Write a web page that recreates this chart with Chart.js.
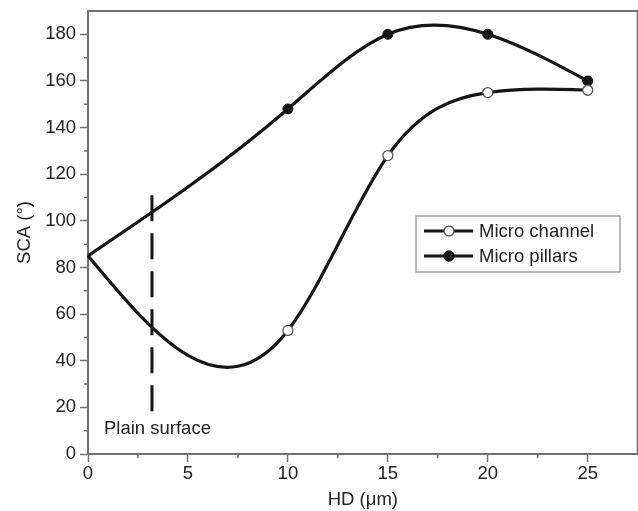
<!DOCTYPE html>
<html>
<head>
<meta charset="utf-8">
<script src="https://cdn.jsdelivr.net/npm/chart.js@4/dist/chart.umd.min.js"></script>
<style>
  html, body { margin: 0; padding: 0; background: #fff; overflow: hidden; }
  #wrap { width: 638px; height: 511px; overflow: hidden; }
</style>
</head>
<body>
<div id="wrap"><canvas id="scaChart" width="644" height="511"></canvas></div>
<script>
// values
var hd = [0, 10, 15, 20, 25];
var microChannel = [85, 53, 128, 155, 156];
var microPillars = [85, 148, 180, 180, 160];
var markerShown = [0, 1, 1, 1, 1];
var plainX = 3.2;
var plainY = [111, 16];
var plainLabel = 'Plain surface';
var plainLabelPos = [0.8, 10.7];
var seriesNames = ['Micro channel', 'Micro pillars'];
var yMinorTicks = [10, 30, 50, 70, 90, 110, 130, 150, 170];
var xMinorTicks = [2.5, 7.5, 12.5, 17.5, 22.5];

var FONT = '"Liberation Sans", Arial, sans-serif';
var FSIZE = 18.5;
var INK = '#151515';
var AXIS = '#707070';

function toPoints(ys) {
    var pts = [];
    for (var i in hd) pts.push({ x: hd[i], y: ys[i] });
    return pts;
}

// slopes of a natural cubic spline at the knots
function splineSlopes(xs, ys) {
    var n = xs.length, h = [], M = [], a = [], b = [], c = [], d = [];
    for (var i = 0; i < n - 1; i++) h.push(xs[i + 1] - xs[i]);
    for (var i = 0; i < n; i++) { a[i] = 0; b[i] = 1; c[i] = 0; d[i] = 0; }
    for (var i = 1; i < n - 1; i++) {
        a[i] = h[i - 1];
        b[i] = 2 * (h[i - 1] + h[i]);
        c[i] = h[i];
        d[i] = 6 * ((ys[i + 1] - ys[i]) / h[i] - (ys[i] - ys[i - 1]) / h[i - 1]);
    }
    for (var i = 1; i < n; i++) {
        var m = a[i] / b[i - 1];
        b[i] -= m * c[i - 1];
        d[i] -= m * d[i - 1];
    }
    M[n - 1] = d[n - 1] / b[n - 1];
    for (var i = n - 2; i >= 0; i--) M[i] = (d[i] - c[i] * M[i + 1]) / b[i];
    var s = [];
    for (var i = 0; i < n - 1; i++) {
        s.push((ys[i + 1] - ys[i]) / h[i] - h[i] * (2 * M[i] + M[i + 1]) / 6);
    }
    var k = n - 2;
    s.push((ys[n - 1] - ys[k]) / h[k] + h[k] * (M[k] + 2 * M[n - 1]) / 6);
    return s;
}

var splinePlugin = {
    id: 'splineCurves',
    beforeDatasetsDraw: function (chart) {
        var xs = chart.scales.x, ys = chart.scales.y, ctx = chart.ctx;
        [microChannel, microPillars].forEach(function (vals) {
            var s = splineSlopes(hd, vals);
            ctx.save();
            ctx.strokeStyle = INK;
            ctx.lineWidth = 3.2;
            ctx.lineJoin = 'round';
            ctx.beginPath();
            ctx.moveTo(xs.getPixelForValue(hd[0]), ys.getPixelForValue(vals[0]));
            for (var i = 0; i < hd.length - 1; i++) {
                var h = hd[i + 1] - hd[i];
                ctx.bezierCurveTo(
                    xs.getPixelForValue(hd[i] + h / 3), ys.getPixelForValue(vals[i] + s[i] * h / 3),
                    xs.getPixelForValue(hd[i + 1] - h / 3), ys.getPixelForValue(vals[i + 1] - s[i + 1] * h / 3),
                    xs.getPixelForValue(hd[i + 1]), ys.getPixelForValue(vals[i + 1]));
            }
            ctx.stroke();
            ctx.restore();
        });
    }
};

var decorPlugin = {
    id: 'decor',
    afterDraw: function (chart) {
        var ctx = chart.ctx, area = chart.chartArea;
        var xs = chart.scales.x, ys = chart.scales.y;
        ctx.save();
        // frame top and right
        ctx.strokeStyle = AXIS;
        ctx.lineWidth = 2;
        ctx.beginPath();
        ctx.moveTo(area.left, area.top);
        ctx.lineTo(area.right, area.top);
        ctx.lineTo(area.right, area.bottom);
        ctx.stroke();
        // minor ticks
        ctx.lineWidth = 1.5;
        ctx.beginPath();
        yMinorTicks.forEach(function (v) {
            var py = ys.getPixelForValue(v);
            ctx.moveTo(area.left - 4, py);
            ctx.lineTo(area.left, py);
        });
        xMinorTicks.forEach(function (v) {
            var px = xs.getPixelForValue(v);
            ctx.moveTo(px, area.bottom);
            ctx.lineTo(px, area.bottom + 4);
        });
        ctx.stroke();
        // annotation text
        ctx.fillStyle = '#222';
        ctx.font = FSIZE + 'px ' + FONT;
        ctx.textBaseline = 'middle';
        ctx.textAlign = 'left';
        ctx.fillText(plainLabel, xs.getPixelForValue(plainLabelPos[0]), ys.getPixelForValue(plainLabelPos[1]));
        // legend
        var lx = 416, ly = 216, lw = 204, lh = 56;
        ctx.fillStyle = '#fff';
        ctx.fillRect(lx, ly, lw, lh);
        ctx.strokeStyle = '#8a8a8a';
        ctx.lineWidth = 1.2;
        ctx.strokeRect(lx, ly, lw, lh);
        var rows = [ly + 15, ly + 40];
        var fills = ['#fff', INK];
        for (var i = 0; i < 2; i++) {
            ctx.strokeStyle = INK;
            ctx.lineWidth = 3;
            ctx.beginPath();
            ctx.moveTo(lx + 8, rows[i]);
            ctx.lineTo(lx + 57, rows[i]);
            ctx.stroke();
            ctx.beginPath();
            ctx.arc(lx + 33, rows[i], 5, 0, Math.PI * 2);
            ctx.fillStyle = fills[i];
            ctx.fill();
            ctx.lineWidth = 1.3;
            ctx.strokeStyle = i === 0 ? '#555' : INK;
            ctx.stroke();
            ctx.fillStyle = '#222';
            ctx.font = FSIZE + 'px ' + FONT;
            ctx.fillText(seriesNames[i], lx + 63, rows[i] + 1);
        }
        ctx.restore();
    }
};

var chartdata = {
    datasets: [
        {
            label: 'Plain surface',
            type: 'line',
            data: [{ x: plainX, y: plainY[0] }, { x: plainX, y: plainY[1] }],
            borderColor: INK,
            borderWidth: 3,
            borderDash: [26, 12],
            pointRadius: 0,
            fill: false
        },
        {
            label: seriesNames[0],
            data: toPoints(microChannel),
            showLine: false,
            pointRadius: markerShown.map(function (m) { return m * 5; }),
            pointBackgroundColor: '#fff',
            pointBorderColor: '#555',
            pointBorderWidth: 1.3
        },
        {
            label: seriesNames[1],
            data: toPoints(microPillars),
            showLine: false,
            pointRadius: markerShown.map(function (m) { return m * 5; }),
            pointBackgroundColor: INK,
            pointBorderColor: INK,
            pointBorderWidth: 1
        }
    ]
};

new Chart(document.getElementById('scaChart'), {
    type: 'scatter',
    data: chartdata,
    plugins: [splinePlugin, decorPlugin],
    options: {
        responsive: false,
        devicePixelRatio: 1,
        animation: false,
        layout: { padding: { top: 11, right: 1, left: 0, bottom: 0 } },
        plugins: { legend: { display: false }, tooltip: { enabled: false } },
        scales: {
            x: {
                type: 'linear',
                min: 0,
                max: 27.5,
                afterFit: function (scale) { scale.height = 57; scale.paddingRight = 0; scale.paddingLeft = 0; },
                border: { display: true, color: AXIS, width: 2 },
                grid: { drawOnChartArea: false, drawTicks: true, tickLength: 8, tickColor: AXIS, tickWidth: 1.5 },
                ticks: { stepSize: 5, includeBounds: false, padding: 1, color: '#222', font: { family: FONT, size: FSIZE } },
                title: { display: true, text: 'HD (\u03bcm)', color: '#222', font: { family: FONT, size: FSIZE }, padding: { top: 0, bottom: 0 } }
            },
            y: {
                type: 'linear',
                min: 0,
                max: 190,
                afterFit: function (scale) { scale.width = 88; scale.paddingTop = 0; scale.paddingBottom = 0; },
                border: { display: true, color: AXIS, width: 2 },
                grid: { drawOnChartArea: false, drawTicks: true, tickLength: 8, tickColor: AXIS, tickWidth: 1.5 },
                ticks: { stepSize: 20, includeBounds: false, padding: 4, color: '#222', font: { family: FONT, size: FSIZE } },
                title: { display: true, text: 'SCA (\u00b0)', color: '#222', font: { family: FONT, size: FSIZE }, padding: { top: 14, bottom: 0 } }
            }
        }
    }
});
</script>
</body>
</html>
